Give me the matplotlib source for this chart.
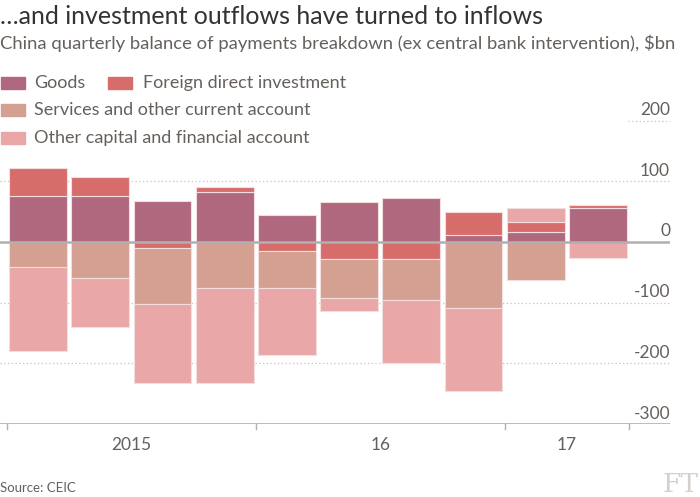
import matplotlib.pyplot as plt
import numpy as np

# quarterly data, 2015 Q1 .. 2017 Q2, $bn
quarters = ["2015Q1", "2015Q2", "2015Q3", "2015Q4", "2016Q1",
            "2016Q2", "2016Q3", "2016Q4", "2017Q1", "2017Q2"]
goods = [75, 75, 68, 83, 45, 65, 73, 11, 16, 56]
fdi = [47, 32, -10, 8, -15, -28, -28, 38, 16, 4]
services = [-41, -59, -92, -76, -61, -65, -68, -109, -63, 0]
other = [-138, -81, -130, -157, -111, -21, -104, -136, 24, -26]

series_names = ["Goods", "Foreign direct investment",
                "Services and other current account",
                "Other capital and financial account"]
colors = ["#b0687f", "#d76d6b", "#d3a092", "#eaa7a7"]

year_labels = ["2015", "16", "17"]
year_pos = [1.5, 5.5, 8.5]
year_ticks = [-0.5, 3.5, 7.5, 9.5]
yticks = [200, 100, 0, -100, -200, -300]

W, H = 700, 497
fig = plt.figure(figsize=(7, 4.97), dpi=100)
plt.rcParams['font.family'] = ['Lato', 'DejaVu Sans']

def fx(px):
    return px / W

def fy(py):
    return 1 - py / H

# axes: x pixel 0..670, y pixel 115..424
x0 = -0.5 - 7 / 62.2
x1 = (670 - 7) / 62.2 - 0.5
ax = fig.add_axes([0, fy(424), fx(670), fy(115) - fy(424)])
ax.set_xlim(x0, x1)
ax.set_ylim(-300, 300 * (424 - 115) / 182.1 - 300)
ax.axis("off")

x = np.arange(len(quarters))
pos_base = np.zeros(len(x))
neg_base = np.zeros(len(x))
for vals, col in zip([goods, fdi, services, other], colors):
    v = np.array(vals, dtype=float)
    bottoms = np.where(v >= 0, pos_base, neg_base)
    ax.bar(x, v, width=0.93, bottom=bottoms, color=col,
           edgecolor="#f3dede", linewidth=0.8, zorder=2)
    pos_base = pos_base + np.where(v > 0, v, 0)
    neg_base = neg_base + np.where(v < 0, v, 0)

# gridlines and labels
for t in yticks:
    if t == 0:
        ax.axhline(0, color="#b0b0b0", lw=1.8, zorder=3)
    elif t == -300:
        ax.axhline(-300, color="#b0b0b0", lw=1.2, zorder=3)
    elif t == 200:
        ax.plot([x1 - 0.68, x1], [t, t], color="#c4c4c4", lw=0.9,
                ls=(0, (1, 2)), zorder=1, clip_on=False)
    else:
        ax.axhline(t, color="#c4c4c4", lw=0.9, ls=(0, (1, 2)), zorder=1)
    ax.text(x1, t + 4, str(t), ha="right", va="bottom", fontsize=12.5,
            color="#66605c")

for t in year_ticks:
    ax.plot([t, t], [-300, -309], color="#b0b0b0", lw=1, clip_on=False)
for p, lab in zip(year_pos, year_labels):
    ax.text(p, -335, lab, ha="center", va="center", fontsize=12.5,
            color="#66605c")

# titles
fig.text(fx(0), fy(17), "\u2026and investment outflows have turned to inflows",
         fontsize=18, color="#333333", va="center", ha="left")
fig.text(fx(0), fy(43),
         "China quarterly balance of payments breakdown (ex central bank intervention), $bn",
         fontsize=13.3, color="#66605c", va="center", ha="left")

# legend
legend_pos = [(1, 83, 34), (108, 83, 143), (1, 110, 34), (1, 138, 34)]
for (sx, sy, tx), name, col in zip(legend_pos, series_names, colors):
    fig.patches.append(plt.Rectangle((fx(sx), fy(sy + 6)), fx(24), 12 / H,
                                     transform=fig.transFigure,
                                     color=col, figure=fig))
    fig.text(fx(tx), fy(sy), name, fontsize=13, color="#66605c",
             va="center", ha="left")

fig.text(fx(0), fy(488), "Source: CEIC", fontsize=9.5, color="#66605c",
         va="center", ha="left")
fig.text(fx(699), fy(484), "FT", fontsize=19, color="#d6d0ca",
         va="center", ha="right", family="DejaVu Serif")

fig.savefig("out.png", dpi=100, facecolor="white")
